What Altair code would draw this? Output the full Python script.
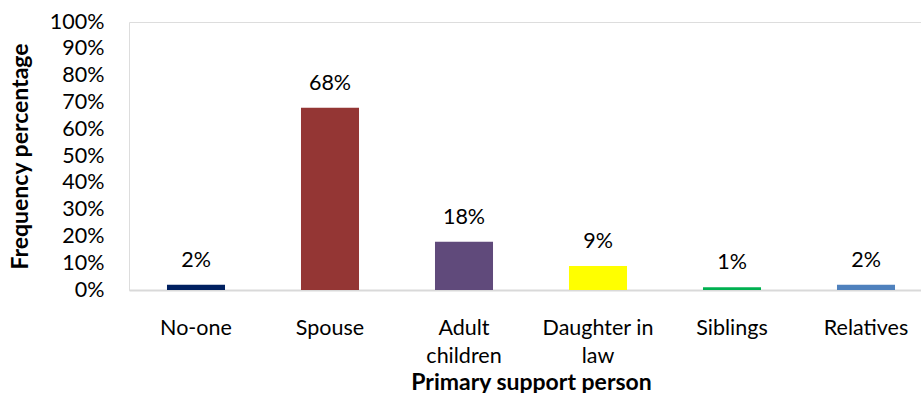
import altair as alt
import pandas as pd

categories = ["No-one", "Spouse", "Adult children", "Daughter in law", "Siblings", "Relatives"]
values = [2, 68, 18, 9, 1, 2]
colors = ["#002060", "#943634", "#604A7B", "#FFFF00", "#00B050", "#4F81BD"]
y_ticks = [0, 10, 20, 30, 40, 50, 60, 70, 80, 90, 100]

df = pd.DataFrame({"cat": categories, "val": values, "lab": [f"{v}%" for v in values]})

FONT = "Lato"

x_enc = alt.X(
    "cat:N",
    sort=categories,
    scale=alt.Scale(range=[0, 804], paddingInner=0.567, paddingOuter=0.2835),
    axis=alt.Axis(
        title="Primary support person",
        titleFont=FONT, titleFontSize=23, titleFontWeight="bold", titleColor="#000",
        titleBaseline="middle", titleX=402, titleY=92, titleAlign="center",
        labelFont=FONT, labelFontSize=21.5, labelColor="#000", labelAngle=0,
        labelPadding=27, labelLineHeight=28,
        labelExpr="datum.label == 'Adult children' ? ['Adult','children'] : datum.label == 'Daughter in law' ? ['Daughter in','law'] : datum.label",
        ticks=False, domainColor="#D9D9D9", domainWidth=2, grid=False, labelOverlap=False,
    ),
)

y_enc = alt.Y(
    "val:Q",
    scale=alt.Scale(domain=[0, 100], nice=False),
    axis=alt.Axis(
        values=y_ticks, title="Frequency percentage",
        titleFont=FONT, titleFontSize=23, titleFontWeight="bold", titleColor="#000",
        titleAngle=-90, titleBaseline="middle", titleAlign="center", titleX=-109, titleY=134,
        labelFont=FONT, labelFontSize=21.5, labelColor="#000", labelPadding=25,
        labelExpr="datum.value + '%'", labelOverlap=False,
        ticks=False, domain=False, grid=False,
    ),
)

base = alt.Chart(df).encode(x=x_enc, y=y_enc)

bars = base.mark_bar().encode(
    color=alt.Color("cat:N", scale=alt.Scale(domain=categories, range=colors), legend=None),
)

text = base.mark_text(font=FONT, fontSize=21.5, color="#000", baseline="alphabetic", dy=-18).encode(
    text="lab:N",
)

chart = (
    alt.layer(bars, text)
    .properties(
        width=792, height=268,
        autosize=alt.AutoSizeParams(type="none"),
        padding={"left": 129, "top": 22, "right": 0, "bottom": 103},
    )
    .configure_view(stroke=None)
    .configure(background="white")
)

chart.save("out.html", embed_options={"renderer": "svg", "actions": False})
